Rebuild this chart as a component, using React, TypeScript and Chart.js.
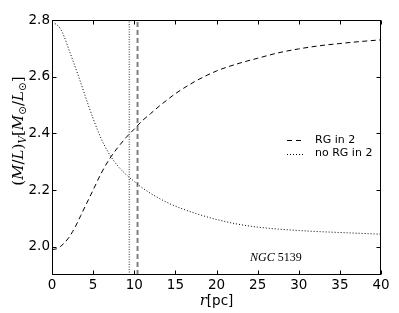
import React, { useEffect, useRef } from "react";
import { Chart, registerables } from "chart.js";

Chart.register(...registerables);

// ---- data ----
const radii = [0, 0.5, 1, 1.5, 2, 2.5, 3, 3.5, 4, 5, 6, 7, 8, 9, 10, 11, 12, 13, 14, 15, 17.5, 20, 22.5, 25, 27.5, 30, 32.5, 35, 37.5, 40];
const mlWithRG = [1.99, 1.992, 2.0, 2.013, 2.03, 2.053, 2.08, 2.11, 2.14, 2.2, 2.26, 2.31, 2.35, 2.385, 2.415, 2.445, 2.47, 2.495, 2.518, 2.54, 2.585, 2.62, 2.645, 2.665, 2.684, 2.698, 2.709, 2.717, 2.724, 2.73];
const mlNoRG = [2.79, 2.785, 2.77, 2.74, 2.7, 2.66, 2.62, 2.578, 2.535, 2.452, 2.38, 2.325, 2.285, 2.255, 2.23, 2.207, 2.188, 2.171, 2.156, 2.143, 2.117, 2.096, 2.08, 2.069, 2.062, 2.057, 2.053, 2.05, 2.047, 2.044];
const dashedMarkerR = [10.4];
const dottedMarkerR = [9.4];
const xLimits = [0, 40];
const yLimits = [1.9, 2.8];
const xTicks = [0, 5, 10, 15, 20, 25, 30, 35, 40];
const yTicks = [2.0, 2.2, 2.4, 2.6, 2.8];
const legendLabels = ["RG in 2", "no RG in 2"];
const clusterName = ["NGC", "5139"];

const SANS = "'DejaVu Sans', sans-serif";
const SERIF = "'DejaVu Serif', serif";

type Part = { t: string; font: string; dy?: number };

function drawParts(ctx: CanvasRenderingContext2D, parts: Part[], cx: number, baseY: number, align: "center" | "left" = "center") {
  let w = 0;
  parts.forEach((p) => {
    ctx.font = p.font;
    w += ctx.measureText(p.t).width;
  });
  let x = align === "center" ? cx - w / 2 : cx;
  ctx.textAlign = "left";
  ctx.textBaseline = "alphabetic";
  parts.forEach((p) => {
    ctx.font = p.font;
    ctx.fillText(p.t, x, baseY + (p.dy || 0));
    x += ctx.measureText(p.t).width;
  });
  return w;
}

const decorPlugin = {
  id: "decor",
  afterDraw(chart: any) {
    const { ctx, chartArea: a, scales } = chart;
    const xs = scales.x;
    const ys = scales.y;
    ctx.save();
    ctx.strokeStyle = "#000";
    ctx.lineWidth = 1;
    ctx.setLineDash([]);
    const L = Math.round(a.left) + 0.5;
    const R = Math.round(a.right) - 0.5;
    const T = Math.round(a.top) + 0.5;
    const B = Math.round(a.bottom) - 0.5;
    ctx.strokeRect(L, T, R - L, B - T);
    ctx.beginPath();
    xTicks.forEach((v) => {
      const p = Math.round(xs.getPixelForValue(v)) + 0.5;
      ctx.moveTo(p, B);
      ctx.lineTo(p, B - 4);
      ctx.moveTo(p, T);
      ctx.lineTo(p, T + 4);
    });
    yTicks.forEach((v) => {
      const p = Math.round(ys.getPixelForValue(v)) + 0.5;
      ctx.moveTo(L, p);
      ctx.lineTo(L + 4, p);
      ctx.moveTo(R, p);
      ctx.lineTo(R - 4, p);
    });
    ctx.stroke();

    ctx.fillStyle = "#000";
    // x title
    drawParts(
      ctx,
      [
        { t: "r", font: `italic 15px ${SERIF}` },
        { t: "[pc]", font: `13.5px ${SANS}` },
      ],
      (a.left + a.right) / 2,
      305
    );

    // y title (rotated)
    ctx.save();
    ctx.translate(22.5, 131);
    ctx.rotate(-Math.PI / 2);
    const big = `15px ${SERIF}`;
    const bigI = `italic 15px ${SERIF}`;
    const sub = `italic 10.5px ${SERIF}`;
    const subSym = `10.5px ${SANS}`;
    drawParts(
      ctx,
      [
        { t: "(", font: big },
        { t: "M", font: bigI },
        { t: "/", font: big },
        { t: "L", font: bigI },
        { t: ")", font: big },
        { t: "V", font: sub, dy: 3 },
        { t: "[", font: big },
        { t: "M", font: bigI },
        { t: "\u2299", font: subSym, dy: 3 },
        { t: "/", font: big },
        { t: "L", font: bigI },
        { t: "\u2299", font: subSym, dy: 3 },
        { t: "]", font: big },
      ],
      0,
      0
    );
    ctx.restore();

    // legend
    const legY = [140, 153.5];
    const dashes = [[5, 4], [1, 2]];
    legY.forEach((y, i) => {
      ctx.beginPath();
      ctx.setLineDash(dashes[i]);
      ctx.strokeStyle = "#000";
      ctx.lineWidth = 1;
      ctx.moveTo(287, Math.round(y) + 0.5);
      ctx.lineTo(303, Math.round(y) + 0.5);
      ctx.stroke();
      ctx.setLineDash([]);
      ctx.font = `11px ${SANS}`;
      ctx.textAlign = "left";
      ctx.textBaseline = "middle";
      ctx.fillText(legendLabels[i], 315, y);
    });

    // annotation
    drawParts(
      ctx,
      [
        { t: clusterName[0], font: `italic 12px 'Liberation Serif', serif` },
        { t: " " + clusterName[1], font: `12px 'Liberation Serif', serif` },
      ],
      250,
      261,
      "left"
    );
    ctx.restore();
  },
};

export default function App() {
  const ref = useRef<HTMLCanvasElement>(null);
  useEffect(() => {
    const canvas = ref.current as HTMLCanvasElement;
    const chart = new Chart(canvas, {
      type: "line",
      data: {
        datasets: [
          {
            label: "dotted marker",
            data: yLimits.map((y) => ({ x: dottedMarkerR[0], y })),
            borderColor: "rgba(0,0,0,0.55)",
            borderWidth: 1.5,
            borderDash: [1, 1.5],
            pointRadius: 0,
          },
          {
            label: "dashed marker",
            data: yLimits.map((y) => ({ x: dashedMarkerR[0], y })),
            borderColor: "rgba(0,0,0,0.5)",
            borderWidth: 2,
            borderDash: [5, 3],
            pointRadius: 0,
          },
          {
            label: legendLabels[0],
            data: radii.map((r, i) => ({ x: r, y: mlWithRG[i] })),
            borderColor: "#000",
            borderWidth: 1,
            borderDash: [5, 3.5],
            pointRadius: 0,
            cubicInterpolationMode: "monotone",
          },
          {
            label: legendLabels[1],
            data: radii.map((r, i) => ({ x: r, y: mlNoRG[i] })),
            borderColor: "#000",
            borderWidth: 1,
            borderDash: [1, 2],
            pointRadius: 0,
            cubicInterpolationMode: "monotone",
          },
        ],
      },
      options: {
        animation: false,
        responsive: false,
        devicePixelRatio: 1,
        events: [],
        layout: { padding: { left: 0, right: 18, top: 20, bottom: 0 } },
        plugins: { legend: { display: false }, tooltip: { enabled: false } },
        scales: {
          x: {
            type: "linear",
            min: xLimits[0],
            max: xLimits[1],
            grid: { display: false, drawTicks: false },
            border: { display: false },
            afterBuildTicks: (scale: any) => {
              scale.ticks = xTicks.map((v) => ({ value: v }));
            },
            afterFit: (scale: any) => {
              scale.height = 38;
            },
            ticks: {
              color: "#000",
              padding: 2,
              maxRotation: 0,
              autoSkip: false,
              font: { family: SANS, size: 13.5 },
              callback: (v: any) => String(v),
            },
          },
          y: {
            type: "linear",
            min: yLimits[0],
            max: yLimits[1],
            grid: { display: false, drawTicks: false },
            border: { display: false },
            afterBuildTicks: (scale: any) => {
              scale.ticks = yTicks.map((v) => ({ value: v }));
            },
            afterFit: (scale: any) => {
              scale.width = 52;
            },
            ticks: {
              color: "#000",
              padding: 2,
              autoSkip: false,
              font: { family: SANS, size: 13.5 },
              callback: (v: any) => Number(v).toFixed(1),
            },
          },
        },
      },
      plugins: [decorPlugin],
    } as any);
    return () => chart.destroy();
  }, []);
  return (
    <div style={{ position: "fixed", left: 0, top: 0, width: 399, height: 313, background: "#fff" }}>
      <canvas ref={ref} width={399} height={313} style={{ display: "block", width: 399, height: 313 }} />
    </div>
  );
}
